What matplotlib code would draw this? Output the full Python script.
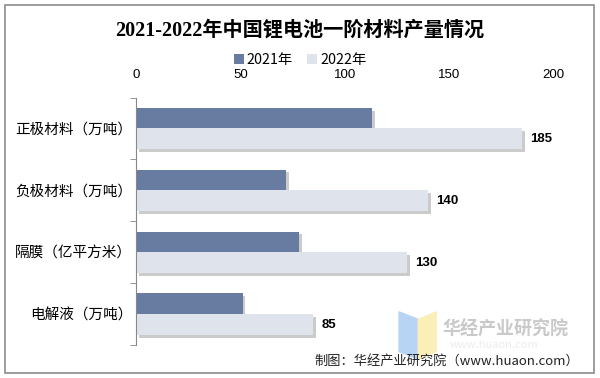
import numpy as np
import matplotlib.pyplot as plt
import matplotlib.patheffects as pe
from matplotlib.patches import Rectangle, Polygon

plt.rcParams['font.family'] = ['Noto Sans CJK SC', 'DejaVu Sans']

# data
categories = ["正极材料（万吨）", "负极材料（万吨）", "隔膜（亿平方米）", "电解液（万吨）"]
v2021 = [113, 72, 78, 51]
v2022 = [185, 140, 130, 85]
series_names = ["2021年", "2022年"]
xticks = [0, 50, 100, 150, 200]

c2021 = "#687ba0"
c2022 = "#dfe3ec"
num_font = ['Liberation Sans Narrow', 'Liberation Sans', 'DejaVu Sans']

fig = plt.figure(figsize=(6, 3.78), dpi=100)
ax = fig.add_axes([0.227, 0.087, 0.695, 0.655])

y = np.arange(len(categories))
h = 0.335
shadow = [pe.SimplePatchShadow(offset=(2, -2), alpha=0.3, shadow_rgbFace='#555555'), pe.Normal()]
b1 = ax.barh(y - h / 2, v2021, height=h, color=c2021, label=series_names[0])
b2 = ax.barh(y + h / 2, v2022, height=h, color=c2022, label=series_names[1])
for b in list(b1) + list(b2):
    b.set_path_effects(shadow)

for yi, v in zip(y, v2022):
    ax.text(v + 4, yi + h / 2, str(v), va='center', ha='left', fontsize=9.5,
            fontweight='bold', family=['Liberation Sans', 'DejaVu Sans'])

ax.set_ylim(len(categories) - 0.5, -0.5)
ax.set_xlim(0, 200)
ax.xaxis.tick_top()
ax.set_xticks(xticks)
ax.set_xticklabels([str(t) for t in xticks], family=num_font, fontsize=9.5)
ax.tick_params(axis='x', length=0, pad=12)
ax.set_yticks(y)
ax.set_yticklabels(categories, fontsize=10.5)
ax.tick_params(axis='y', length=0, pad=3)
# minor ticks between categories on left axis
ax.set_yticks(np.arange(-0.5, len(categories), 1), minor=True)
ax.tick_params(axis='y', which='minor', length=4, color='#888888', direction='out')
for s in ['top', 'right', 'bottom']:
    ax.spines[s].set_visible(False)
ax.spines['left'].set_color('#888888')

fig.text(0.5, 0.92, "2021-2022年中国锂电池一阶材料产量情况", ha='center', va='center',
         fontsize=14.5, fontweight='bold', family=['Liberation Serif', 'Noto Sans CJK SC'])

leg = fig.legend(handles=[b1, b2], labels=series_names, loc='center', bbox_to_anchor=(0.5, 0.84),
                 ncol=2, frameon=False, fontsize=10.3, handlelength=0.7, handleheight=0.7,
                 columnspacing=1.0, handletextpad=0.2)
for hnd in leg.legend_handles:
    hnd.set_path_effects([])

# watermark
fig.patches.append(Polygon([[0.665, 0.175], [0.697, 0.155], [0.697, 0.05], [0.665, 0.07]],
                           closed=True, transform=fig.transFigure, color='#b8d4f5', zorder=0))
fig.patches.append(Polygon([[0.697, 0.155], [0.727, 0.175], [0.727, 0.07], [0.697, 0.05]],
                           closed=True, transform=fig.transFigure, color='#fbefb8', zorder=0))
fig.text(0.738, 0.13, "华经产业研究院", fontsize=13, fontweight='bold', color='#c9c9c9',
         ha='left', va='center')
fig.text(0.75, 0.088, "www.huaon.com", fontsize=8, color='#ececec', ha='left', va='center')
fig.text(0.965, 0.045, "制图：华经产业研究院（www.huaon.com）", fontsize=9.5, color='#222222',
         ha='right', va='center')

fig.patches.append(Rectangle((0.008, 0.013), 0.982, 0.974, transform=fig.transFigure,
                             fill=False, edgecolor='#8c8c8c', linewidth=1.2))

fig.savefig("out.png", dpi=100)
